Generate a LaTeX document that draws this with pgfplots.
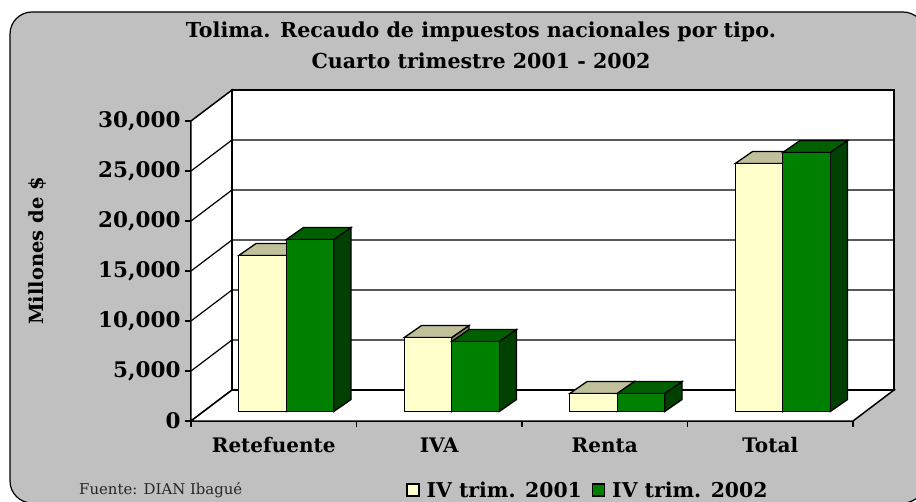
\documentclass[border=0pt]{standalone}
\usepackage{fontspec}
\setmainfont{DejaVu Serif}
\usepackage{pgfplots}
\pgfplotsset{compat=1.18}

\definecolor{panel}{HTML}{C0C0C0}
\definecolor{cream}{HTML}{FFFFCC}
\definecolor{creamtop}{HTML}{C0C09A}
\definecolor{creamside}{HTML}{808066}
\definecolor{verde}{HTML}{008000}
\definecolor{verdetop}{HTML}{006000}
\definecolor{verdeside}{HTML}{004000}

% side and top of one bar: x left, x right, value, top colour, side colour
\newcommand{\caras}[5]{%
  \pgfmathsetmacro{\xa}{#1}%
  \pgfmathsetmacro{\xb}{#2}%
  \pgfmathsetmacro{\xc}{#1+0.1045}%
  \pgfmathsetmacro{\xd}{#2+0.1045}%
  \edef\yt{\the\numexpr#3+1200\relax}%
  \addplot[forget plot, fill=#5, draw=black, line width=1.3pt] coordinates {(\xb,0) (\xd,1200) (\xd,\yt) (\xb,#3)} -- cycle;
  \addplot[forget plot, fill=#4, draw=black, line width=1.3pt] coordinates {(\xa,#3) (\xc,\yt) (\xd,\yt) (\xb,#3)} -- cycle;
}

\begin{document}
\begin{tikzpicture}[x=1pt,y=1pt]
\useasboundingbox (0,0) rectangle (916,501);
\clip (0,0) rectangle (916,501);
\draw[fill=panel, draw=black, line width=1.2pt, rounded corners=22pt] (10,-2) rectangle (925,489);

\node[anchor=base west, font=\fontsize{14.9}{18}\selectfont, text=black!85, inner sep=0pt] at (79,7) {Fuente: DIAN Ibagué};

% walls, floor and ticks
\begin{axis}[
    at={(191pt,80pt)}, anchor=south west,
    scale only axis, width=662pt, height=300pt,
    xmin=0, xmax=4, ymin=0, ymax=30000,
    clip=false,
    axis lines*=left,
    axis line style={line width=1.5pt},
    tick style={black, line width=1.3pt},
    tick align=outside,
    ytick={0,5000,10000,15000,20000,25000,30000},
    major tick length=6pt,
    xtick={0,1,2,3,4},
    xticklabels={},
    extra x ticks={0.5,1.5,2.5,3.5},
    extra x tick labels={Retefuente,IVA,Renta,Total},
    extra x tick style={major tick length=0pt},
    scaled y ticks=false,
    /pgf/number format/assume math mode=true,
    /pgf/number format/1000 sep={,},
    y tick label style={font=\fontsize{21.5}{24}\bfseries\selectfont, xshift=-1pt},
    x tick label style={font=\fontsize{20}{24}\bfseries\selectfont, text height=15pt, text depth=0pt, yshift=-13pt},
    ylabel={Millones de \$},
    every axis y label/.style={at={(rel axis cs:-0.232,0.567)}, rotate=90, anchor=center, font=\fontsize{19.5}{24}\bfseries\selectfont},
    title={Tolima. Recaudo de impuestos nacionales por tipo.\\[7pt]Cuarto trimestre 2001 - 2002},
    title style={at={(rel axis cs:0.438,1.143)}, anchor=south, align=center, font=\fontsize{20.6}{24}\bfseries\selectfont},
]
\addplot[forget plot, fill=white, draw=black, line width=1.5pt] coordinates {(0,0) (0.2477,3100) (0.2477,33100) (0,30000)} -- cycle;
\addplot[forget plot, fill=white, draw=black, line width=1.5pt] coordinates {(0.2477,3100) (0.2477,33100) (4.2477,33100) (4.2477,3100)} -- cycle;
\addplot[forget plot, fill=white, draw=black, line width=1.5pt] coordinates {(0,0) (0.2477,3100) (4.2477,3100) (4,0)} -- cycle;
\addplot[forget plot, black, line width=1.2pt] coordinates {(0,5000) (0.2477,8100) (4.2477,8100)};
\addplot[forget plot, black, line width=1.2pt] coordinates {(0,10000) (0.2477,13100) (4.2477,13100)};
\addplot[forget plot, black, line width=1.2pt] coordinates {(0,15000) (0.2477,18100) (4.2477,18100)};
\addplot[forget plot, black, line width=1.2pt] coordinates {(0,20000) (0.2477,23100) (4.2477,23100)};
\addplot[forget plot, black, line width=1.2pt] coordinates {(0,25000) (0.2477,28100) (4.2477,28100)};
\end{axis}

% bars, moved into the depth of the floor
\begin{axis}[
    at={(203.5pt,89.5pt)}, anchor=south west,
    scale only axis, width=662pt, height=300pt,
    xmin=0, xmax=4, ymin=0, ymax=30000,
    clip=false,
    hide axis,
    legend columns=2,
    legend style={at={(rel axis cs:0.306,-0.262)}, anchor=west, draw=none, fill=none,
      font=\fontsize{20.4}{24}\bfseries\selectfont, inner sep=0pt,
      /tikz/every odd column/.append style={column sep=5pt},
      /tikz/every even column/.append style={column sep=8pt}},
    legend cell align=left,
]
\caras{0.5-0.287}{0.5}{15600}{creamtop}{creamside}
\caras{1.5-0.287}{1.5}{7400}{creamtop}{creamside}
\caras{2.5-0.287}{2.5}{1800}{creamtop}{creamside}
\caras{3.5-0.287}{3.5}{24800}{creamtop}{creamside}
\addplot[forget plot, ybar, bar width=47.5pt, bar shift=-23.75pt, fill=cream, draw=black, line width=1.3pt]
  coordinates {(0.5,15600) (1.5,7400) (2.5,1800) (3.5,24800)};
\caras{0.5}{0.5+0.287}{17200}{verdetop}{verdeside}
\caras{1.5}{1.5+0.287}{7000}{verdetop}{verdeside}
\caras{2.5}{2.5+0.287}{1800}{verdetop}{verdeside}
\caras{3.5}{3.5+0.287}{25900}{verdetop}{verdeside}
\addplot[forget plot, ybar, bar width=47.5pt, bar shift=23.75pt, fill=verde, draw=black, line width=1.3pt]
  coordinates {(0.5,17200) (1.5,7000) (2.5,1800) (3.5,25900)};
\addlegendimage{legend image code/.code={\draw[fill=cream, draw=black, line width=1.3pt] (0pt,-6pt) rectangle (12pt,6pt);}}
\addlegendentry{IV trim. 2001}
\addlegendimage{legend image code/.code={\draw[fill=verde, draw=black, line width=1.3pt] (0pt,-6pt) rectangle (12pt,6pt);}}
\addlegendentry{IV trim. 2002}
\end{axis}
\end{tikzpicture}
\end{document}
